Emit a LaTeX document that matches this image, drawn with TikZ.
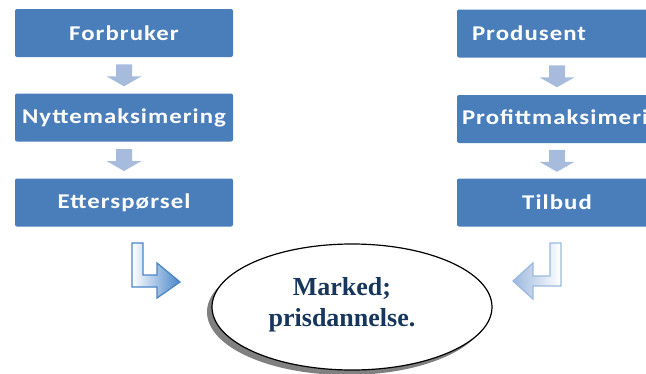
\documentclass[tikz,border=0pt]{standalone}
\usepackage{fontspec}
\setmainfont{Liberation Serif}
\newfontfamily\boxfont[LetterSpace=5,FakeStretch=1.18]{Carlito}
\usetikzlibrary{shapes.geometric,shadows,calc}
\definecolor{boxblue}{HTML}{4A7EBB}
\definecolor{smallarrow}{HTML}{A7BBDD}
\definecolor{larrow}{HTML}{4A86C8}
\definecolor{rarrow}{HTML}{9CB9DF}
\definecolor{navy}{HTML}{17365D}
\begin{document}
\begin{tikzpicture}[x=1pt,y=-1pt,
  flowbox/.style={fill=boxblue, rounded corners=2pt, minimum height=48pt,
    text=white, font=\boxfont\bfseries\fontsize{21}{25}\selectfont, inner sep=0pt},
  leftbox/.style={flowbox, minimum width=218pt},
  rightbox/.style={flowbox, minimum width=200pt},
  downarrow/.style={fill=smallarrow},
  markfont/.style={font=\bfseries\fontsize{26}{31}\selectfont, text=navy, align=center}
]
\useasboundingbox (0,0) rectangle (646,373);
\clip (0,0) rectangle (646,373);
\fill[white] (0,0) rectangle (646,373);

% left column
\node[leftbox] (b1) at (124,33) {Forbruker};
\node[leftbox] (b2) at (124,117.5) {Nyttemaksimering};
\node[leftbox] (b3) at (124,202.5) {Etterspørsel};

% right column
\node[rightbox, text width=170pt, inner xsep=15pt, align=left] (r1) at (557,33.5) {Produsent};
\node[rightbox, text width=190pt, inner xsep=5pt, align=left] (r2) at (557,119) {Profittmaksimering};
\node[rightbox] (r3) at (557,202.5) {Tilbud};

% small down arrows
\foreach \a/\b in {b1/b2, b2/b3, r1/r2, r2/r3}{
  \fill[downarrow] ($(\a.south)!0.5!(\b.north)$) ++(-8,-11) -- ++(16,0) -- ++(0,12)
    -- ++(9.5,0) -- ++(-17.5,10) -- ++(-17.5,-10) -- ++(9.5,0) -- cycle;
}

% market ellipse
\node[ellipse, draw=black, line width=1.2pt, fill=white,
  minimum width=280pt, minimum height=126pt,
  drop shadow={shadow xshift=-5pt, shadow yshift=-5pt, fill=black!50, opacity=1}] (mk) at (352,307) {};
\node[markfont] (mkt) at (342,305) {Marked;\\prisdannelse.};

% bent arrows toward the market
\coordinate (la) at (132,243);
\shade[left color=white, right color=larrow, draw=larrow, line width=1.3pt, line join=miter]
  (la) -- ++(11,0) -- ++(0,32) -- ++(14,0) -- ++(0,-12) -- ++(23,19) -- ++(-23,16)
  -- ++(0,-11) -- ++(-25,0) -- cycle;
\coordinate (ra) at (561,243);
\shade[left color=rarrow, right color=white, draw=rarrow, line width=1.3pt, line join=miter]
  (ra) -- ++(-11,0) -- ++(0,33) -- ++(-17,0) -- ++(0,-13) -- ++(-20,18) -- ++(20,18)
  -- ++(0,-13) -- ++(28,0) -- cycle;
\end{tikzpicture}
\end{document}
